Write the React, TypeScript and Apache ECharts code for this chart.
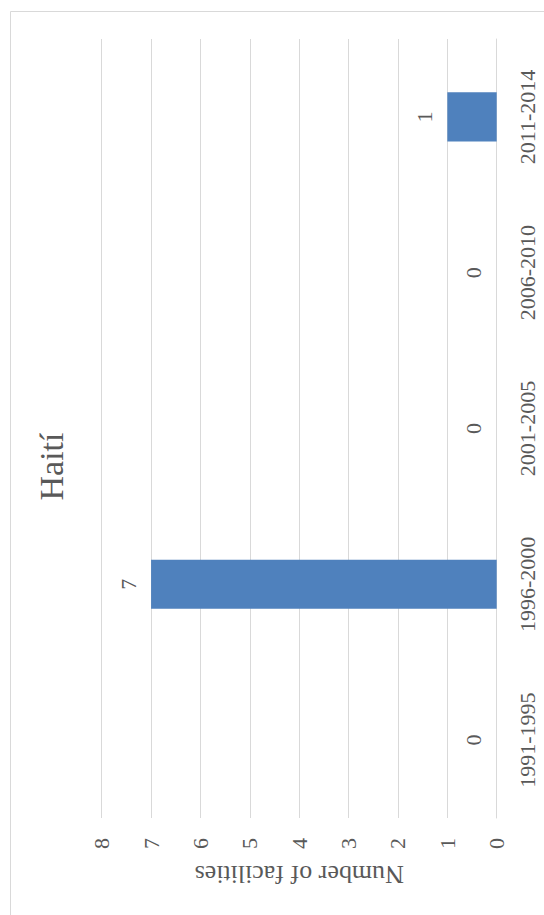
import React, { useEffect, useRef } from "react";
import * as echarts from "echarts";

const categories = ["1991-1995", "1996-2000", "2001-2005", "2006-2010", "2011-2014"];
const facilities = [0, 7, 0, 0, 1];
const titleText = "Haití";
const axisTitle = "Number of facilities";

const FONT = "'Liberation Serif', 'DejaVu Serif', serif";
const TEXT = "#595959";
const GRID = "#D9D9D9";

export default function App() {
  const ref = useRef<HTMLDivElement>(null);
  useEffect(() => {
    if (!ref.current) return;
    const chart = echarts.init(ref.current, null, { renderer: "svg" });
    chart.setOption({
      animation: false,
      backgroundColor: "#ffffff",
      grid: { left: 101.7, right: 47.3, top: 39, bottom: 97, containLabel: false },
      xAxis: {
        type: "value",
        min: 0,
        max: 8,
        interval: 1,
        inverse: true,
        position: "bottom",
        axisLine: { show: false },
        axisTick: { show: false },
        splitLine: { show: true, lineStyle: { color: GRID, width: 1 } },
        axisLabel: { rotate: 90, margin: 20, fontSize: 22, fontFamily: FONT, color: TEXT },
      },
      yAxis: {
        type: "category",
        data: categories,
        position: "right",
        axisLine: { show: true, lineStyle: { color: GRID, width: 1 } },
        axisTick: { show: false },
        axisLabel: { rotate: 90, margin: 20, fontSize: 22, fontFamily: FONT, color: TEXT },
      },
      series: [
        {
          type: "bar",
          data: facilities,
          barWidth: "31.5%",
          itemStyle: { color: "#4F81BD" },
          label: {
            show: true,
            position: "left",
            distance: 23,
            rotate: 90,
            align: "center",
            verticalAlign: "middle",
            fontSize: 22,
            fontFamily: FONT,
            color: TEXT,
          },
        },
      ],
      graphic: [
        {
          type: "rect",
          shape: { x: 10.5, y: 11.5, width: 700, height: 1000 },
          style: { fill: "none", stroke: GRID, lineWidth: 1 },
          silent: true,
        },
        {
          type: "text",
          x: 51,
          y: 466.5,
          rotation: Math.PI / 2,
          style: {
            text: titleText,
            fontSize: 34,
            fontFamily: FONT,
            fill: TEXT,
            textAlign: "center",
            textVerticalAlign: "middle",
          },
        },
        {
          type: "text",
          x: 299.2,
          y: 874,
          rotation: Math.PI,
          style: {
            text: axisTitle,
            fontSize: 26,
            fontFamily: FONT,
            fill: TEXT,
            textAlign: "center",
            textVerticalAlign: "middle",
          },
        },
      ],
    });
    return () => chart.dispose();
  }, []);
  return (
    <div
      ref={ref}
      style={{ position: "absolute", left: 0, top: 0, width: 544, height: 915 }}
    />
  );
}
